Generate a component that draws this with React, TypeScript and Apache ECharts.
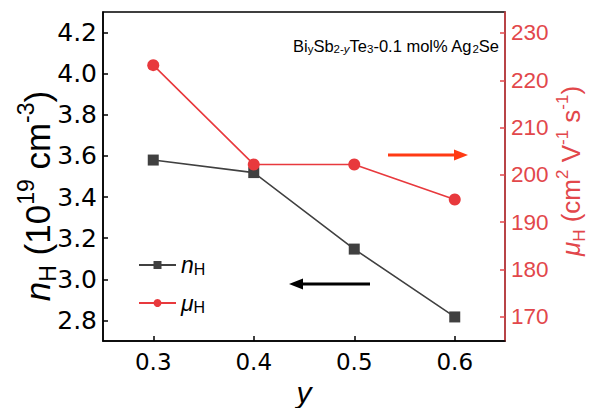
import React, { useEffect, useRef } from "react";
import * as echarts from "echarts";

const yValues = [0.3, 0.4, 0.5, 0.6];
const nH = [3.58, 3.519, 3.147, 2.817];
const muH = [223.2, 202.2, 202.2, 194.8];
const xTicks = [0.3, 0.4, 0.5, 0.6];
const leftTicks = [2.8, 3.0, 3.2, 3.4, 3.6, 3.8, 4.0, 4.2];
const rightTicks = [170, 180, 190, 200, 210, 220, 230];

const FONT = "Liberation Sans";
const TICKFONT = "DejaVu Sans";
const DARK = "#404040";
const RED = "#e8393d";
const AXISRED = "#e2474b";

function titleRich(size: number, color: string) {
  const sub = Math.round(size * 0.66);
  return {
    i: { fontSize: size, fontStyle: "italic", fontFamily: FONT, fill: color, lineHeight: size * 1.3, verticalAlign: "middle" },
    n: { fontSize: size, fontFamily: FONT, fill: color, lineHeight: size * 1.3, verticalAlign: "middle" },
    sub: { fontSize: sub, fontFamily: FONT, fill: color, verticalAlign: "bottom", lineHeight: sub },
    sup: { fontSize: sub, fontFamily: FONT, fill: color, verticalAlign: "top", lineHeight: sub },
  };
}

export default function App() {
  const ref = useRef<HTMLDivElement>(null);
  useEffect(() => {
    if (!ref.current) return;
    const chart = echarts.init(ref.current, undefined, { renderer: "svg" });
    const option: any = {
      animation: false,
      backgroundColor: "#ffffff",
      textStyle: { fontFamily: FONT },
      grid: {
        left: 103,
        top: 12,
        right: 87,
        bottom: 67,
        show: true,
        borderColor: "#000",
        borderWidth: 1.5,
        containLabel: false,
        outerBoundsMode: "none",
      },
      legend: {
        orient: "vertical",
        left: 133,
        top: 247,
        itemGap: 13,
        itemWidth: 37,
        itemHeight: 10,
        data: ["nH", "muH"],
        formatter: (name: string) =>
          name === "nH" ? "{i|n}{s|H}" : "{i|μ}{s|H}",
        textStyle: {
          fontFamily: FONT,
          rich: {
            i: { fontSize: 23, fontStyle: "italic", fontFamily: FONT, color: "#000", verticalAlign: "top", lineHeight: 24 },
            s: { fontSize: 16, fontFamily: FONT, color: "#000", verticalAlign: "bottom", lineHeight: 15, padding: [9, 0, 0, 0] },
          },
        },
      },
      xAxis: {
        type: "value",
        min: 0.25,
        max: 0.65,
        name: "y",
        nameLocation: "middle",
        nameGap: 32,
        nameTextStyle: { fontSize: 30, fontStyle: "italic", fontFamily: FONT, color: "#000" },
        axisLine: { lineStyle: { color: "#000", width: 1.5 } },
        axisTick: { inside: true, length: 5, customValues: xTicks, lineStyle: { color: "#000", width: 1.5 } },
        axisLabel: {
          customValues: xTicks,
          fontSize: 23,
          color: "#000",
          margin: 9,
          fontFamily: TICKFONT,
          formatter: (v: number) => v.toFixed(1),
        },
        splitLine: { show: false },
      },
      yAxis: [
        {
          type: "value",
          min: 2.7,
          max: 4.3,
          position: "left",
          axisLine: { show: true, lineStyle: { color: "#000", width: 1.5 } },
          axisTick: { show: true, inside: true, length: 5, customValues: leftTicks, lineStyle: { color: "#000", width: 1.5 } },
          axisLabel: {
            customValues: leftTicks,
            fontSize: 25,
            color: "#000",
            margin: 6,
            fontFamily: TICKFONT,
            formatter: (v: number) => v.toFixed(1),
          },
          splitLine: { show: false },
        },
        {
          type: "value",
          min: 164.86,
          max: 234.44,
          position: "right",
          axisLine: { show: true, lineStyle: { color: AXISRED, width: 1.5 } },
          axisTick: { show: true, inside: true, length: 5, customValues: rightTicks, lineStyle: { color: AXISRED, width: 1.5 } },
          axisLabel: {
            customValues: rightTicks,
            fontSize: 22.5,
            color: AXISRED,
            margin: 6,
            fontFamily: FONT,
          },
          splitLine: { show: false },
        },
      ],
      series: [
        {
          name: "nH",
          type: "line",
          yAxisIndex: 0,
          data: yValues.map((x, i) => [x, nH[i]]),
          symbol: "rect",
          symbolSize: 11,
          itemStyle: { color: DARK },
          lineStyle: { color: DARK, width: 1.6 },
          z: 2,
        },
        {
          name: "muH",
          type: "line",
          yAxisIndex: 1,
          data: yValues.map((x, i) => [x, muH[i]]),
          symbol: "circle",
          symbolSize: 12,
          itemStyle: { color: RED },
          lineStyle: { color: RED, width: 1.6 },
          z: 3,
        },
      ],
      graphic: [
        {
          type: "text",
          x: 37,
          y: 196,
          rotation: Math.PI / 2,
          style: {
            text: "{i|n}{sub|H}{n| (10}{sup|19}{n| cm}{sup|-3}{n|)}",
            align: "center",
            verticalAlign: "middle",
            rich: titleRich(35, "#000"),
          },
        },
        {
          type: "text",
          x: 571,
          y: 171,
          rotation: Math.PI / 2,
          style: {
            text: "{i|μ}{sub|H}{n| (cm}{sup|2}{n| V}{sup|-1}{n| s}{sup|-1}{n|)}",
            align: "center",
            verticalAlign: "middle",
            rich: titleRich(26, AXISRED),
          },
        },
        {
          type: "text",
          left: 293,
          top: 33,
          style: {
            text: "{n|Bi}{s|y}{n|Sb}{s|2-}{si|y}{n|Te}{s|3}{n|-0.1 mol% Ag}{s|2}{n|Se}",
            rich: {
              n: { fontSize: 16.5, fontFamily: FONT, fill: "#000", verticalAlign: "top", lineHeight: 18 },
              s: { fontSize: 11.5, fontFamily: FONT, fill: "#000", verticalAlign: "bottom", lineHeight: 12, padding: [10, 0, 0, 0] },
              si: { fontSize: 11.5, fontStyle: "italic", fontFamily: FONT, fill: "#000", verticalAlign: "bottom", lineHeight: 12, padding: [10, 0, 0, 0] },
            },
          },
        },
        {
          type: "line",
          shape: { x1: 370, y1: 284, x2: 300, y2: 284 },
          style: { stroke: "#000", lineWidth: 3 },
        },
        {
          type: "polygon",
          shape: { points: [[289, 284], [303, 278.5], [303, 289.5]] },
          style: { fill: "#000" },
        },
        {
          type: "line",
          shape: { x1: 388, y1: 155, x2: 456, y2: 155 },
          style: { stroke: "#ff3a14", lineWidth: 3 },
        },
        {
          type: "polygon",
          shape: { points: [[468, 155], [454, 149.5], [454, 160.5]] },
          style: { fill: "#ff3a14" },
        },
      ],
    };
    chart.setOption(option);
    return () => chart.dispose();
  }, []);
  return (
    <div
      ref={ref}
      style={{ position: "fixed", left: 0, top: 0, width: 592, height: 408, background: "#fff" }}
    />
  );
}
